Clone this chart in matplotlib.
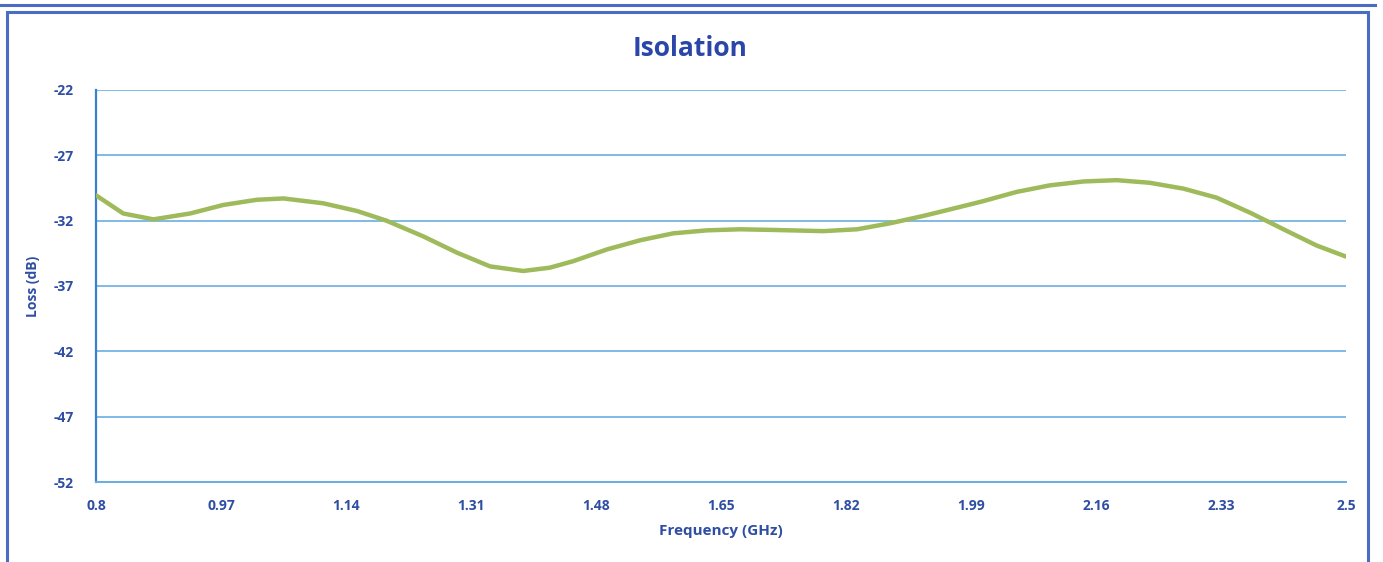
import matplotlib.pyplot as plt
from matplotlib.patches import Rectangle
from matplotlib.lines import Line2D

# Isolation curve (GHz, dB)
freq = [0.800, 0.837, 0.878, 0.928, 0.973, 1.019, 1.055, 1.109, 1.155, 1.195,
        1.245, 1.291, 1.336, 1.381, 1.417, 1.449, 1.495, 1.540, 1.585, 1.631,
        1.676, 1.721, 1.789, 1.835, 1.880, 1.925, 1.975, 2.007, 2.052, 2.097,
        2.143, 2.188, 2.233, 2.279, 2.324, 2.370, 2.415, 2.460, 2.500]
loss = [-30.06, -31.45, -31.9, -31.45, -30.8, -30.4, -30.3, -30.67, -31.26, -32.0,
        -33.2, -34.45, -35.5, -35.85, -35.6, -35.1, -34.2, -33.5, -32.97, -32.74,
        -32.66, -32.71, -32.8, -32.66, -32.2, -31.64, -30.95, -30.5, -29.8, -29.3,
        -29.0, -28.9, -29.1, -29.55, -30.24, -31.4, -32.66, -33.9, -34.75]

xticks = [0.8, 0.97, 1.14, 1.31, 1.48, 1.65, 1.82, 1.99, 2.16, 2.33, 2.5]
xtick_labels = ['0.8', '0.97', '1.14', '1.31', '1.48', '1.65', '1.82', '1.99', '2.16', '2.33', '2.5']
yticks = [-52, -47, -42, -37, -32, -27, -22]

text_blue = '#2f4ea3'
grid_blue = '#6aaee0'
frame_blue = '#4a6cc4'

plt.rcParams['font.family'] = ['Open Sans', 'DejaVu Sans']
plt.rcParams['axes.unicode_minus'] = False

fig = plt.figure(figsize=(13.83, 5.62), dpi=100)
W, H = 1383, 562

# outer frame like the source document box
fig.patches.append(Rectangle((7 / W, -0.05), (1368 - 7) / W, 1 - 12 / H + 0.05,
                             transform=fig.transFigure, fill=False,
                             edgecolor=frame_blue, linewidth=2.2))
fig.lines.append(Line2D([0, 1375 / W], [1 - 5 / H, 1 - 5 / H], transform=fig.transFigure,
                        color=frame_blue, linewidth=2.2))

ax = fig.add_axes([96 / W, 1 - 482 / H, (1346 - 96) / W, (482 - 90) / H])

ax.plot(freq, loss, color='#9fba5a', linewidth=3.2, solid_capstyle='round',
        solid_joinstyle='round', zorder=3)

ax.set_xlim(0.8, 2.5)
ax.set_ylim(-52, -22)
ax.set_xticks(xticks)
ax.set_xticklabels(xtick_labels)
ax.set_yticks(yticks)

ax.grid(axis='y', color=grid_blue, linewidth=1.2)
ax.set_axisbelow(True)
for s in ['top', 'right']:
    ax.spines[s].set_visible(False)
ax.spines['left'].set_color('#3b7fd0')
ax.spines['left'].set_linewidth(1.6)
ax.spines['bottom'].set_color(grid_blue)
ax.spines['bottom'].set_linewidth(1.4)

ax.tick_params(axis='both', length=0, labelsize=10, labelcolor=text_blue)
ax.tick_params(axis='y', pad=16)
ax.tick_params(axis='x', pad=12)
for lab in ax.get_xticklabels() + ax.get_yticklabels():
    lab.set_fontweight('bold')

ax.set_xlabel('Frequency (GHz)', fontsize=11, fontweight='bold', color=text_blue, labelpad=8)
ax.set_ylabel('Loss (dB)', fontsize=10, fontweight='bold', color=text_blue, labelpad=10)
fig.text(690 / W, 1 - 48 / H, 'Isolation', ha='center', va='center',
         fontsize=19, fontweight='bold', color='#2a46a8')

fig.savefig('out.png', dpi=100)
